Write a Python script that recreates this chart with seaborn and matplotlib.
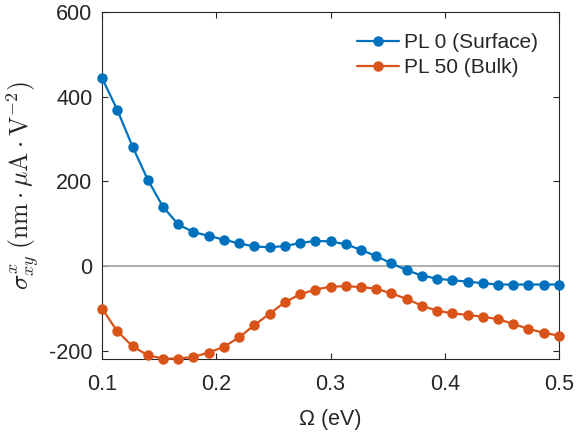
import matplotlib
matplotlib.use("Agg")
import matplotlib.pyplot as plt
import seaborn as sns
import pandas as pd

omega = [0.1000, 0.1133, 0.1267, 0.1400, 0.1533, 0.1667, 0.1800, 0.1933, 0.2067, 0.2200,
         0.2333, 0.2467, 0.2600, 0.2733, 0.2867, 0.3000, 0.3133, 0.3267, 0.3400, 0.3533,
         0.3667, 0.3800, 0.3933, 0.4067, 0.4200, 0.4333, 0.4467, 0.4600, 0.4733, 0.4867, 0.5000]

pl0_surface = [444, 369, 282, 204, 140, 98, 80, 71, 62, 53,
               46, 44, 47, 54, 59, 58, 51, 38, 23, 6,
               -10, -23, -30, -34, -37, -41, -44, -44, -44, -44, -44]

pl50_bulk = [-101, -154, -190, -211, -219, -219, -215, -205, -191, -169,
             -140, -113, -86, -67, -56, -49, -48, -50, -54, -65,
             -78, -94, -106, -112, -116, -120, -126, -137, -149, -158, -165]

series_names = ["PL 0 (Surface)", "PL 50 (Bulk)"]
colors = ["#0072BD", "#D95319"]
x_ticks = [0.1, 0.2, 0.3, 0.4, 0.5]
y_ticks = [-200, 0, 200, 400, 600]

df = pd.DataFrame({
    "omega": omega * 2,
    "sigma": pl0_surface + pl50_bulk,
    "series": [series_names[0]] * len(omega) + [series_names[1]] * len(omega),
})

sns.set_style("white")
plt.rcParams["font.family"] = ["Liberation Sans", "DejaVu Sans"]
plt.rcParams["mathtext.fontset"] = "cm"

fig = plt.figure(figsize=(5.77, 4.36), dpi=100)
ax = fig.add_axes([0.1768, 0.1766, 0.9688 - 0.1768, 0.9725 - 0.1766])

ax.axhline(0, color="#a6a6a6", lw=1.3, zorder=1)

sns.lineplot(data=df, x="omega", y="sigma", hue="series", hue_order=series_names,
             palette=colors, marker="o", markersize=7.5, markeredgewidth=0,
             linewidth=1.6, ax=ax, zorder=3, clip_on=False)

ax.set_xlim(0.1, 0.5)
ax.set_ylim(-220, 600)
ax.set_xticks(x_ticks)
ax.set_xticklabels([f"{t:.1f}" for t in x_ticks])
ax.set_yticks(y_ticks)
ax.set_yticklabels([str(t) for t in y_ticks])

for s in ax.spines.values():
    s.set_color("#262626")
    s.set_linewidth(0.8)
    s.set_visible(True)

ax.tick_params(axis="both", which="both", direction="in", length=4, width=0.8,
               color="#262626", labelsize=15.5, labelcolor="#262626",
               top=True, right=True, bottom=True, left=True)
ax.tick_params(axis="x", pad=11)
ax.tick_params(axis="y", pad=7)

ax.set_xlabel("\u03a9 (eV)", fontsize=15.5, color="#262626", labelpad=10)
ax.set_ylabel(r"$\sigma^{x}_{xy}\;(\mathrm{nm}\cdot\mu\mathrm{A}\cdot\mathrm{V}^{-2})$",
              fontsize=18.5, color="#262626", labelpad=5)

leg = ax.legend(loc="upper right", frameon=False, fontsize=15, handlelength=2.0,
                handletextpad=0.25, borderaxespad=0.6, labelspacing=0.3)
for h in leg.get_lines():
    h.set_markersize(7.5)

fig.savefig("out.png", dpi=100)
